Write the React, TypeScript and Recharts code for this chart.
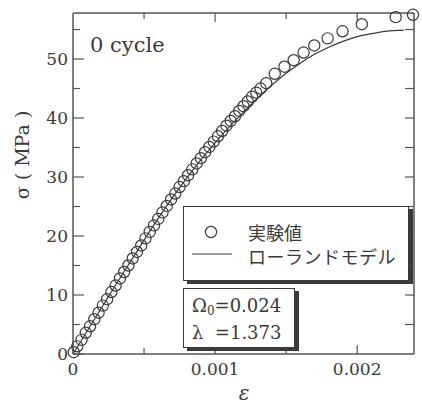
import React from "react";
import { ComposedChart, Line, Scatter, XAxis, YAxis } from "recharts";

// experimental points (strain, stress MPa)
const expStrain = [
	0.000005, 0.00003, 0.00006, 0.00009, 0.00012, 0.00015, 0.00018, 0.00021,
	0.00024, 0.00027, 0.0003, 0.00033, 0.00036, 0.00039, 0.00042, 0.00045,
	0.00048, 0.00051, 0.00054, 0.00057, 0.0006, 0.00063, 0.00066, 0.00069,
	0.00072, 0.00075, 0.00078, 0.00081, 0.00084, 0.00087, 0.0009, 0.00093,
	0.00096, 0.00099, 0.00102, 0.00105, 0.00108, 0.00111, 0.00114, 0.00117,
	0.0012, 0.00123, 0.00126, 0.00129, 0.00132, 0.00136, 0.00142, 0.001488,
	0.001553, 0.001623, 0.001698, 0.001792, 0.001897, 0.002033, 0.002271,
	0.002393,
];
const expStress = [
	0.3, 1.3, 2.4, 3.6, 4.7, 5.9, 7.0, 8.2, 9.3, 10.5, 11.6, 12.8, 13.9, 15.0,
	16.2, 17.3, 18.4, 19.6, 20.7, 21.8, 22.9, 24.0, 25.1, 26.2, 27.2, 28.3,
	29.3, 30.3, 31.3, 32.3, 33.2, 34.2, 35.1, 36.0, 36.9, 37.8, 38.7, 39.5,
	40.3, 41.2, 42.0, 42.8, 43.6, 44.3, 45.0, 45.9, 47.5, 48.7, 49.8, 51.1,
	52.3, 53.5, 54.7, 55.9, 57.1, 57.5,
];

// Rowland model curve
const modelStrain = [
	0, 0.0001, 0.0002, 0.0003, 0.0004, 0.0005, 0.0006, 0.0007, 0.0008, 0.0009,
	0.001, 0.0011, 0.0012, 0.0013, 0.0014, 0.0015, 0.0016, 0.0017, 0.0018,
	0.0019, 0.002, 0.0021, 0.0022, 0.00233,
];
const modelStress = [
	0, 3.9, 7.8, 11.7, 15.5, 19.3, 23.0, 26.5, 29.8, 32.9, 35.8, 38.5, 41.0,
	43.4, 45.6, 47.6, 49.3, 50.8, 52.0, 53.0, 53.8, 54.3, 54.7, 54.9,
];

const xTicks = [0, 0.0005, 0.001, 0.0015, 0.002];
const xTopTicks = [0.0005, 0.001, 0.0015, 0.002];
const yTicks = [0, 5, 10, 15, 20, 25, 30, 35, 40, 45, 50, 55];
const yRightTicks = [5, 10, 15, 20, 25, 30, 35, 40, 45, 50, 55];

const legendLabels = ["実験値", "ローランドモデル"];
const paramLines = ["0.024", "1.373"];
const panelTitle = "0 cycle";

const expData = expStrain.map((e, i) => ({ e, s: expStress[i] }));
const modelData = modelStrain.map((e, i) => ({ e, s: modelStress[i] }));

const INK = "#3a3a3a";
const FRAME = "#555";
const SERIF = "'DejaVu Serif', serif";
const GOTHIC = "'Noto Sans CJK JP', sans-serif";
const X_DOMAIN = [0, 0.0024];
const Y_DOMAIN = [0, 57.8];

const isMajorX = (v: number) => Math.abs(v * 1000 - Math.round(v * 1000)) < 1e-9;
const fmtX = (v: number) => (v === 0 ? "0" : v.toFixed(3));

function BottomTick(props: any) {
	const { x, y, payload } = props;
	const major = isMajorX(payload.value);
	return (
		<g>
			<line x1={x} y1={y} x2={x} y2={y - (major ? 9 : 6)} stroke={FRAME} strokeWidth={1.2} />
			{major && (
				<text x={x} y={y + 21} textAnchor="middle" fill={INK} fontSize={17} fontFamily={SERIF}>
					{fmtX(payload.value)}
				</text>
			)}
		</g>
	);
}

function TopTick(props: any) {
	const { x, y, payload } = props;
	const major = isMajorX(payload.value);
	return <line x1={x} y1={y} x2={x} y2={y + (major ? 9 : 6)} stroke={FRAME} strokeWidth={1.2} />;
}

function LeftTick(props: any) {
	const { x, y, payload } = props;
	const major = payload.value % 10 === 0;
	return (
		<g>
			<line x1={x} y1={y} x2={x + (major ? 11 : 7)} y2={y} stroke={FRAME} strokeWidth={1.2} />
			{major && (
				<text x={x - 5} y={y + 6} textAnchor="end" fill={INK} fontSize={17} fontFamily={SERIF}>
					{payload.value}
				</text>
			)}
		</g>
	);
}

function RightTick(props: any) {
	const { x, y } = props;
	return <line x1={x} y1={y} x2={x - 9} y2={y} stroke={FRAME} strokeWidth={1.2} />;
}

const Ring = (props: any) => (
	<circle cx={props.cx} cy={props.cy} r={5.6} fill="none" stroke={INK} strokeWidth={1.2} />
);

const boxStyle: React.CSSProperties = {
	position: "absolute",
	boxSizing: "border-box",
	background: "#fff",
	border: `1.5px solid ${INK}`,
	boxShadow: `4px 3px 0 ${INK}`,
};

export default function App() {
	return (
		<div style={{ position: "absolute", left: 0, top: 0, width: 422, height: 406, background: "#fff" }}>
			<ComposedChart width={422} height={406} margin={{ top: 12, right: 7, bottom: 0, left: 0 }}>
				<XAxis
					xAxisId="b"
					dataKey="e"
					type="number"
					domain={X_DOMAIN}
					ticks={xTicks}
					interval={0}
					height={52}
					tickSize={0}
					tickMargin={0}
					tick={<BottomTick />}
					axisLine={{ stroke: FRAME, strokeWidth: 1.5 }}
					label={{
						content: () => (
							<text x={244} y={400} textAnchor="middle" fill={INK} fontSize={20} fontStyle="italic" fontFamily={SERIF}>
								ε
							</text>
						),
					}}
				/>
				<XAxis
					xAxisId="t"
					orientation="top"
					dataKey="e"
					type="number"
					domain={X_DOMAIN}
					ticks={xTopTicks}
					interval={0}
					height={1}
					tickSize={0}
					tickMargin={0}
					tick={<TopTick />}
					axisLine={{ stroke: FRAME, strokeWidth: 1.5 }}
				/>
				<YAxis
					yAxisId="l"
					dataKey="s"
					type="number"
					domain={Y_DOMAIN}
					ticks={yTicks}
					interval={0}
					width={73}
					tickSize={0}
					tickMargin={0}
					tick={<LeftTick />}
					axisLine={{ stroke: FRAME, strokeWidth: 1.5 }}
					label={{
						content: () => (
							<text
								x={22}
								y={155}
								transform="rotate(-90, 22, 155)"
								textAnchor="middle"
								dominantBaseline="central"
								fill={INK}
								fontSize={19}
								fontFamily={SERIF}>
								σ ( MPa )
							</text>
						),
					}}
				/>
				<YAxis
					yAxisId="r"
					orientation="right"
					dataKey="s"
					type="number"
					domain={Y_DOMAIN}
					ticks={yRightTicks}
					interval={0}
					width={1}
					tickSize={0}
					tickMargin={0}
					tick={<RightTick />}
					axisLine={{ stroke: FRAME, strokeWidth: 1.5 }}
				/>
				{/* invisible copy so the frame axes (top / right) get drawn */}
				<Line
					xAxisId="t"
					yAxisId="r"
					data={modelData}
					dataKey="s"
					stroke="none"
					dot={false}
					activeDot={false}
					isAnimationActive={false}
				/>
				<Line
					xAxisId="b"
					yAxisId="l"
					data={modelData}
					dataKey="s"
					type="monotone"
					stroke={INK}
					strokeWidth={1.2}
					dot={false}
					activeDot={false}
					isAnimationActive={false}
				/>
				<Scatter
					xAxisId="b"
					yAxisId="l"
					data={expData}
					dataKey="s"
					shape={Ring}
					isAnimationActive={false}
				/>
			</ComposedChart>

			<div
				style={{
					position: "absolute",
					left: 90,
					top: 31,
					fontFamily: SERIF,
					fontSize: 21,
					color: INK,
					lineHeight: "28px",
				}}>
				{panelTitle}
			</div>

			<div style={{ ...boxStyle, left: 183, top: 206, width: 226, height: 75 }}>
				<svg width={60} height={50} style={{ position: "absolute", left: 6, top: 10 }}>
					<circle cx={21} cy={15} r={5.6} fill="none" stroke={INK} strokeWidth={1.2} />
					<line x1={2} y1={37} x2={42} y2={37} stroke={INK} strokeWidth={1.2} />
				</svg>
				<div
					style={{
						position: "absolute",
						left: 64,
						top: 13,
						fontFamily: GOTHIC,
						fontSize: 18,
						lineHeight: "24px",
						color: INK,
						whiteSpace: "nowrap",
					}}>
					<div style={{ height: 24 }}>{legendLabels[0]}</div>
					<div style={{ height: 24, letterSpacing: 0.5 }}>{legendLabels[1]}</div>
				</div>
			</div>

			<div style={{ ...boxStyle, left: 183, top: 288, width: 112, height: 60 }}>
				<div
					style={{
						position: "absolute",
						left: 8,
						top: 6,
						fontFamily: SERIF,
						fontSize: 18,
						lineHeight: "22px",
						color: INK,
						whiteSpace: "nowrap",
					}}>
					<div>
						Ω<sub style={{ fontSize: 12, verticalAlign: "-3px" }}>0</sub>={paramLines[0]}
					</div>
					<div>λ&nbsp;&nbsp;={paramLines[1]}</div>
				</div>
			</div>
		</div>
	);
}
